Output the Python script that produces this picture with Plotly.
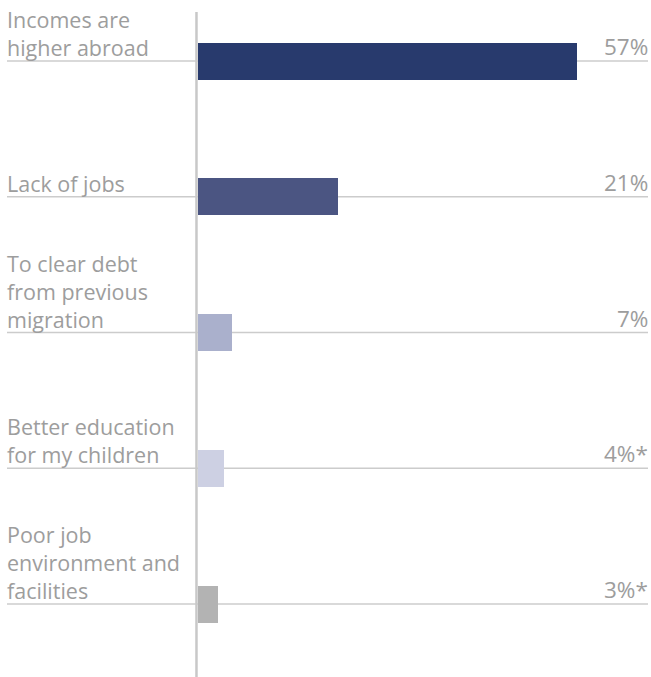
import plotly.graph_objects as go

categories = [
    "Incomes are<br>higher abroad",
    "Lack of jobs",
    "To clear debt<br>from previous<br>migration",
    "Better education<br>for my children",
    "Poor job<br>environment and<br>facilities",
]
values = [57, 21, 5.1, 3.9, 3]
value_labels = ["57%", "21%", "7%", "4%*", "3%*"]
bar_colors = ["#283a6d", "#4b5582", "#aab0cc", "#cdd0e3", "#b3b3b3"]

W, H = 651, 677
pos = list(range(len(categories)))

fig = go.Figure()
fig.add_trace(go.Bar(
    x=values, y=pos, orientation="h",
    marker=dict(color=bar_colors, line=dict(width=0)),
    width=0.2726, hoverinfo="skip", showlegend=False,
))

text_color = "#9d9d9d"
line_color = "#cccccc"
font_family = "Open Sans"
fs = 21.5

shapes = []
annotations = []
for i, (cat, lab) in enumerate(zip(categories, value_labels)):
    shapes.append(dict(type="line", xref="paper", yref="y",
                       x0=7 / W, x1=648 / W, y0=i, y1=i,
                       line=dict(color=line_color, width=1.5), layer="below"))
    annotations.append(dict(xref="paper", yref="y", x=7 / W, y=i,
                            text=cat, showarrow=False, xanchor="left",
                            yanchor="bottom", align="left",
                            xshift=-2, yshift=-3,
                            font=dict(family=font_family, size=fs, color=text_color)))
    annotations.append(dict(xref="paper", yref="y", x=648 / W, y=i,
                            text=lab, showarrow=False, xanchor="right",
                            yanchor="bottom", align="right", xshift=2, yshift=-3,
                            font=dict(family=font_family, size=fs + 1, color=text_color)))

shapes.append(dict(type="line", xref="x", yref="paper",
                   x0=-0.23, x1=-0.23, y0=0, y1=1 - 12 / H,
                   line=dict(color="#c8c8c8", width=2.5)))

px_per_unit = 379 / 57
x0_px = 198
fig.update_layout(
    width=W, height=H,
    margin=dict(l=0, r=0, t=0, b=0),
    paper_bgcolor="white", plot_bgcolor="white",
    xaxis=dict(range=[-x0_px / px_per_unit, (W - x0_px) / px_per_unit],
               visible=False, fixedrange=True),
    yaxis=dict(range=[(H - 61) / 135.75, -61 / 135.75],
               visible=False, fixedrange=True),
    shapes=shapes, annotations=annotations,
    bargap=0,
)

fig.write_html("out.html")
